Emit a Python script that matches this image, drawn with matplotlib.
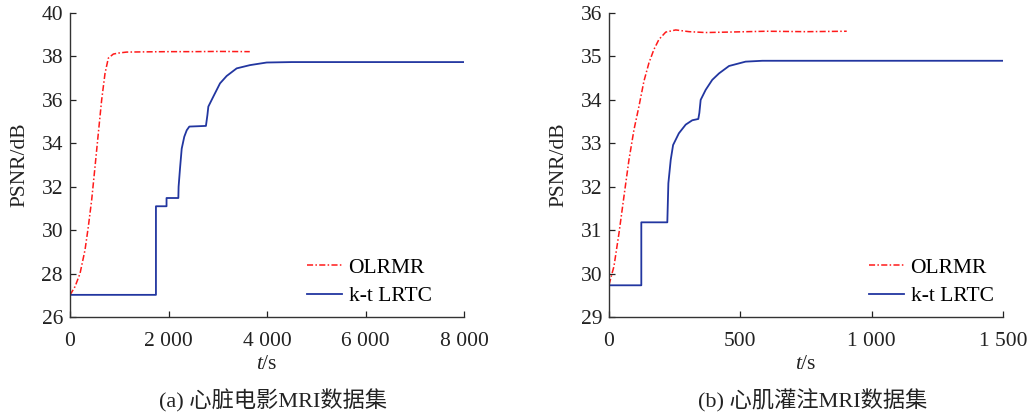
import matplotlib
matplotlib.use("Agg")
import matplotlib.pyplot as plt
from matplotlib.ticker import FuncFormatter

plt.rcParams['font.family'] = ['Liberation Serif', 'Noto Sans CJK SC']
plt.rcParams['mathtext.fontset'] = 'custom'
plt.rcParams['mathtext.rm'] = 'Liberation Serif'
plt.rcParams['mathtext.it'] = 'Liberation Serif:italic'

# ---- Panel (a) data ----
a_olrmr_t = [0, 102, 203, 305, 372, 440, 508, 575, 643, 711, 778, 880, 1000, 1150, 1500, 2000, 2500, 3000, 3650]
a_olrmr_p = [27.01, 27.4, 28.0, 29.09, 30.16, 31.39, 32.92, 34.46, 36.0, 37.22, 37.92, 38.11, 38.16, 38.2,
             38.21, 38.22, 38.22, 38.23, 38.22]
a_lrtc_t = [0, 1745, 1745, 1960, 1960, 2200, 2205, 2234, 2268, 2320, 2370, 2423, 2760, 2790, 2809,
            2910, 3046, 3181, 3384, 3655, 3994, 4500, 8000]
a_lrtc_p = [27.02, 27.02, 31.1, 31.1, 31.48, 31.48, 32.0, 32.85, 33.75, 34.3, 34.6, 34.77, 34.8, 35.3, 35.69,
            36.15, 36.76, 37.1, 37.45, 37.6, 37.72, 37.74, 37.74]

# ---- Panel (b) data ----
b_olrmr_t = [0, 19, 38, 57, 76, 95, 114, 133, 152, 171, 190, 216, 254, 305, 368, 450, 600, 750, 905]
b_olrmr_p = [29.74, 30.17, 30.93, 31.78, 32.62, 33.31, 33.85, 34.43, 34.85, 35.16, 35.39, 35.56, 35.61,
             35.57, 35.55, 35.56, 35.58, 35.57, 35.58]
b_lrtc_t = [0, 123, 123, 222, 226, 235, 244, 266, 292, 317, 340, 344, 349, 368, 393, 419, 457, 520, 584, 800, 1500]
b_lrtc_p = [29.73, 29.73, 31.18, 31.18, 32.08, 32.62, 32.96, 33.23, 33.43, 33.53, 33.56, 33.7, 34.0, 34.23,
            34.46, 34.61, 34.78, 34.88, 34.9, 34.9, 34.9]

a_yticks = [26, 28, 30, 32, 34, 36, 38, 40]
a_xticks = [0, 2000, 4000, 6000, 8000]
b_yticks = [29, 30, 31, 32, 33, 34, 35, 36]
b_xticks = [0, 500, 1000, 1500]
labels = ['OLRMR', 'k-t LRTC']
captions = ['(a) 心脏电影MRI数据集', '(b) 心肌灌注MRI数据集']

RED = '#ff1a1a'
BLUE = '#2236a0'
TXT = '#222222'
FS = 15.5

fig = plt.figure(figsize=(10.35, 4.16), dpi=100)
axa = fig.add_axes([70/1035, 1-317/416, 394/1035, 304/416])
axb = fig.add_axes([609/1035, 1-317/416, 394/1035, 304/416])

def fmt(v, pos):
    return f"{int(v):,}".replace(",", " ")

for ax, ot, op, lt, lp, yt, xt, cap, legx in [
    (axa, a_olrmr_t, a_olrmr_p, a_lrtc_t, a_lrtc_p, a_yticks, a_xticks, captions[0], (307-70)/394),
    (axb, b_olrmr_t, b_olrmr_p, b_lrtc_t, b_lrtc_p, b_yticks, b_xticks, captions[1], (869-609)/394),
]:
    ax.plot(ot, op, color=RED, lw=1.1, linestyle=(0, (4, 1.5, 1, 1.5)), label=labels[0])
    ax.plot(lt, lp, color=BLUE, lw=1.3, label=labels[1])
    ax.set_xlim(xt[0], xt[-1])
    ax.set_ylim(yt[0], yt[-1])
    ax.set_xticks(xt)
    ax.set_yticks(yt)
    ax.xaxis.set_major_formatter(FuncFormatter(fmt))
    ax.tick_params(direction='in', length=4, width=0.9, labelsize=FS, colors=TXT)
    ax.tick_params(axis='x', pad=10.5)
    ax.tick_params(axis='y', pad=5)
    for s in ['top', 'right']:
        ax.spines[s].set_visible(False)
    for s in ['left', 'bottom']:
        ax.spines[s].set_color('#333333')
        ax.spines[s].set_linewidth(1.0)
    ax.set_ylabel('PSNR/dB', fontsize=FS, color=TXT, va='center')
    ax.yaxis.set_label_coords(-0.126, 0.5)
    ax.set_xlabel('$t$/s', fontsize=FS, color=TXT, va='center')
    ax.xaxis.set_label_coords(0.5, -0.157)
    ax.legend(loc='upper left', frameon=False, fontsize=FS, handlelength=1.63,
              handletextpad=0.3, borderpad=0, borderaxespad=0, labelspacing=0.4,
              bbox_to_anchor=(legx, 0.195))
    pos = ax.get_position()
    fig.text(pos.x0 + pos.width/2 + 0.006, 1-401/416, cap, ha='center', va='center',
             fontsize=FS + 0.5, color=TXT)

fig.savefig('out.png', dpi=100)
